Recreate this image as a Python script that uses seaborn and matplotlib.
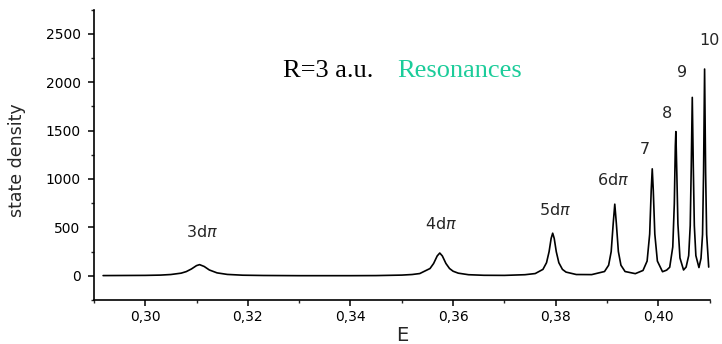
import numpy as np
import pandas as pd
import matplotlib
matplotlib.use("Agg")
import matplotlib.pyplot as plt
import seaborn as sns
from matplotlib.ticker import MultipleLocator

# energy (a.u.) and state density
energy = [0.2918, 0.296, 0.300, 0.303, 0.305, 0.307, 0.308, 0.309, 0.310, 0.3106,
          0.3115, 0.3125, 0.314, 0.316, 0.319, 0.323, 0.330, 0.340, 0.345, 0.350,
          0.352, 0.3535, 0.3555, 0.3562, 0.3569, 0.3574, 0.3579, 0.3586, 0.3593, 0.360,
          0.361, 0.363, 0.366, 0.370, 0.374, 0.376, 0.3775, 0.3782, 0.3787, 0.3791,
          0.3794, 0.3797, 0.3801, 0.3806, 0.3813, 0.382, 0.384, 0.387, 0.3895, 0.3903,
          0.3908, 0.3912, 0.3915, 0.3918, 0.3922, 0.3927, 0.3935, 0.3955, 0.3970, 0.3978,
          0.3983, 0.3986, 0.3988, 0.3990, 0.3993, 0.3998, 0.4008, 0.4016, 0.4022, 0.4028,
          0.4031, 0.4033, 0.4034, 0.4036, 0.4038, 0.4042, 0.4049, 0.4054, 0.4059, 0.4062,
          0.4064, 0.4066, 0.4068, 0.4070, 0.4073, 0.4079, 0.4083, 0.4086, 0.4088, 0.4090,
          0.4092, 0.4094, 0.4098]
density = [2, 3, 4, 7, 13, 27, 43, 70, 105, 115,
           96, 60, 30, 14, 6, 3, 1, 1, 2, 7,
           13, 23, 75, 127, 205, 235, 205, 127, 75, 47,
           27, 11, 5, 4, 11, 23, 66, 135, 249, 386,
           440, 386, 249, 135, 66, 38, 13, 12, 44, 109,
           250, 544, 740, 544, 250, 109, 44, 22, 55, 152,
           431, 884, 1105, 884, 431, 152, 42, 58, 88, 298,
           745, 1341, 1490, 1031, 536, 184, 60, 90, 208, 518,
           1123, 1843, 1123, 518, 208, 85, 180, 427, 1068, 2136,
           1068, 427, 90]

peak_names = ["3d$\\pi$", "4d$\\pi$", "5d$\\pi$", "6d$\\pi$", "7", "8", "9", "10"]
label_x = [0.3111, 0.3577, 0.3799, 0.3911, 0.3974, 0.4017, 0.4046, 0.4099]
label_y = [452, 531, 682, 985, 1304, 1675, 2098, 2428]

xtick_vals = [0.30, 0.32, 0.34, 0.36, 0.38, 0.40]
xtick_text = ["0,30", "0,32", "0,34", "0,36", "0,38", "0,40"]
ytick_vals = [0, 500, 1000, 1500, 2000, 2500]

df = pd.DataFrame({"E": energy, "state density": density})

sns.set_style("ticks")
plt.rcParams['font.family'] = ['DejaVu Sans']

fig = plt.figure(figsize=(7.22, 3.44), dpi=100)
ax = fig.add_axes([0.130, 0.128, 0.853, 0.844])
sns.lineplot(data=df, x="E", y="state density", color="black", linewidth=1.2, ax=ax)

ax.set_xlim(0.29, 0.41)
ax.set_ylim(-250, 2750)
ax.set_xticks(xtick_vals)
ax.set_xticklabels(xtick_text)
ax.set_yticks(ytick_vals)
ax.xaxis.set_minor_locator(MultipleLocator(0.01))
ax.yaxis.set_minor_locator(MultipleLocator(250))
ax.tick_params(which="major", direction="out", length=4.5, width=1.1, labelsize=10, colors="black")
ax.tick_params(which="minor", direction="out", length=2.5, width=1.0)
ax.tick_params(axis="x", which="major", pad=3)
ax.tick_params(axis="y", which="major", pad=5)
sns.despine(ax=ax)
for s in ["left", "bottom"]:
    ax.spines[s].set_linewidth(1.2)
    ax.spines[s].set_color("black")

ax.set_xlabel("E", fontsize=14)
ax.xaxis.label.set_va("center")
ax.xaxis.set_label_coords(0.5, -0.124)
ax.set_ylabel("state density", fontsize=12.5)
ax.yaxis.label.set_va("center")
ax.yaxis.set_label_coords(-0.124, 0.48)

for name, lx, ly in zip(peak_names, label_x, label_y):
    ax.text(lx, ly, name, ha="center", va="center", fontsize=11.5)

ax.text(0.3268, 2119, "R=3 a.u.", ha="left", va="center", fontsize=19,
        family=["Liberation Serif", "DejaVu Serif"], color="black")
ax.text(0.3492, 2119, "Resonances", ha="left", va="center", fontsize=19,
        family=["Liberation Serif", "DejaVu Serif"], color="#1ccc9a")

fig.savefig("out.png", dpi=100)
